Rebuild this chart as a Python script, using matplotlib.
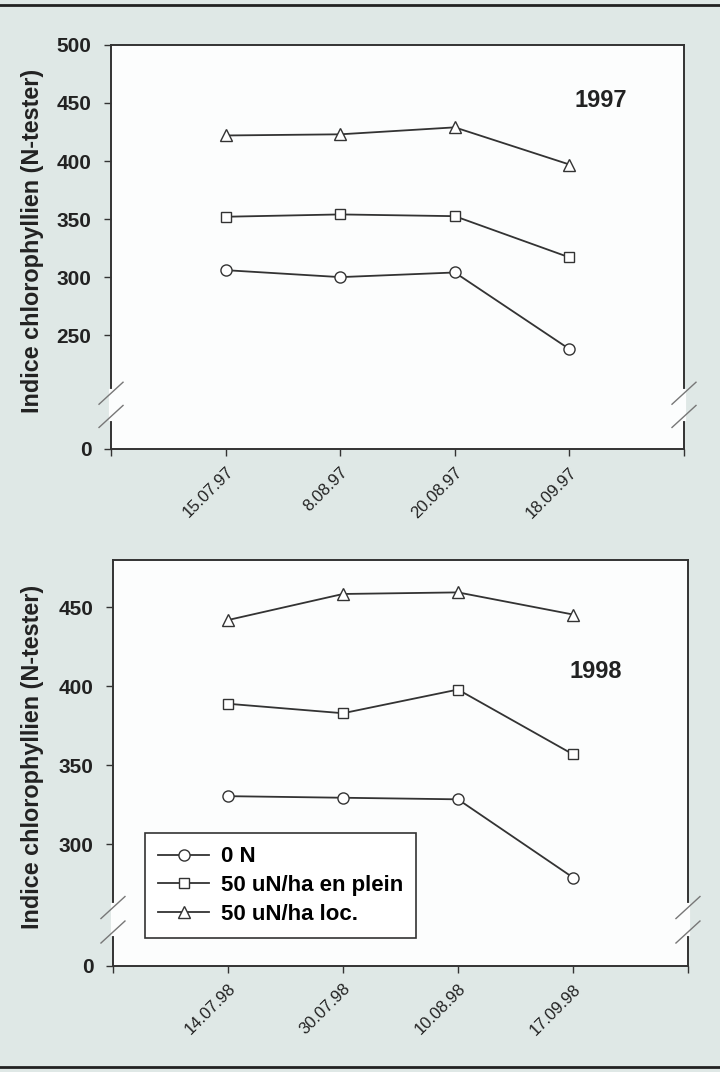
import matplotlib
matplotlib.use("Agg")
import matplotlib.pyplot as plt
from matplotlib.lines import Line2D

plt.rcParams['font.family'] = ['Liberation Sans', 'DejaVu Sans']

# ---- data ----
dates_1997 = ["15.07.97", "8.08.97", "20.08.97", "18.09.97"]
dates_1998 = ["14.07.98", "30.07.98", "10.08.98", "17.09.98"]
series_names = ["0 N", "50 uN/ha en plein", "50 uN/ha loc."]

n0_1997 = [306, 300, 304, 238]
plein_1997 = [352, 354, 352.5, 317]
loc_1997 = [422, 423, 429, 397]

n0_1998 = [330.5, 329.5, 328.5, 279]
plein_1998 = [389, 383, 398, 357]
loc_1998 = [442, 458.5, 459.5, 445.5]

yticks_1997 = [152, 250, 300, 350, 400, 450, 500]
ylabels_1997 = ["0", "250", "300", "350", "400", "450", "500"]
yticks_1998 = [223, 300, 350, 400, 450]
ylabels_1998 = ["0", "300", "350", "400", "450"]

ylabel_text = "Indice chlorophyllien (N-tester)"

BG = "#dfe8e6"
DARK = "#333333"
markers = ["o", "s", "^"]
msizes = [8, 7, 8]

fig = plt.figure(figsize=(7.2, 10.72), dpi=100)
fig.patch.set_facecolor(BG)

def setup(ax, dates, data, yticks, ylabels, ylim, year, year_xy, breaks):
    ax.set_facecolor("#fcfdfd")
    x = list(range(len(dates)))
    for vals, m, ms, name in zip(data, markers, msizes, series_names):
        ax.plot(x, vals, color=DARK, lw=1.3, marker=m, ms=ms,
                mfc="white", mec=DARK, mew=1.0, label=name, zorder=3)
    ax.set_xlim(-1, 4)
    ax.set_ylim(*ylim)
    ax.set_xticks(range(-1, 5))
    ax.set_xticklabels([""] + dates + [""], rotation=45, ha="right",
                       va="top", rotation_mode="anchor", fontsize=12,
                       color="#222222")
    ax.set_yticks(yticks)
    ax.set_yticklabels(ylabels, fontsize=15, fontweight="bold", color="#222222")
    ax.tick_params(axis="y", length=5, width=1, color=DARK, pad=9)
    ax.tick_params(axis="x", length=5, width=1, color=DARK, pad=6)
    for s in ax.spines.values():
        s.set_color(DARK)
        s.set_linewidth(1.4)
    ax.text(year_xy[0], year_xy[1], year, transform=ax.transAxes,
            fontsize=17, fontweight="bold", color="#222222",
            ha="center", va="center")
    # axis break marks on both sides
    bb = ax.get_position()
    W, H = fig.get_size_inches() * fig.dpi
    dx = 12 / (bb.width * W)
    dy = 11 / (bb.height * H)
    y0, y1 = ylim
    for xs in (0, 1):
        yb = [(b - y0) / (y1 - y0) for b in breaks]
        # gap in spine
        ax.add_line(Line2D([xs, xs], [yb[0] + 0.2 * dy, yb[1] - 0.2 * dy],
                           transform=ax.transAxes, color="#fcfdfd", lw=3,
                           clip_on=False, zorder=4))
        for yy in yb:
            ax.add_line(Line2D([xs - dx, xs + dx], [yy - dy, yy + dy],
                               transform=ax.transAxes, color="#777777",
                               lw=1.0, clip_on=False, zorder=5))

ax1 = fig.add_axes([0.1542, 0.5812, 0.7958, 0.3769])
setup(ax1, dates_1997, [n0_1997, plein_1997, loc_1997], yticks_1997,
      ylabels_1997, (152, 500), "1997", (0.854, 0.862), [200, 180])

ax2 = fig.add_axes([0.1569, 0.0989, 0.7986, 0.3787])
setup(ax2, dates_1998, [n0_1998, plein_1998, loc_1998], yticks_1998,
      ylabels_1998, (223, 480), "1998", (0.840, 0.725), [260, 244.5])

leg = ax2.legend(loc="upper left", bbox_to_anchor=(0.0557, 0.3276),
                 borderaxespad=0, fancybox=False, frameon=True,
                 prop={"family": "Liberation Sans", "weight": "bold", "size": 16},
                 handlelength=2.3, handletextpad=0.5, labelspacing=0.35,
                 borderpad=0.6)
leg.get_frame().set_edgecolor(DARK)
leg.get_frame().set_linewidth(1.2)
leg.get_frame().set_facecolor("white")
leg.get_frame().set_alpha(1)

fig.text(33 / 720, 1 - 241 / 1072, ylabel_text, rotation=90, ha="center",
         va="center", fontsize=16.8, fontweight="bold", color="#222222")
fig.text(33 / 720, 1 - 757 / 1072, ylabel_text, rotation=90, ha="center",
         va="center", fontsize=16.8, fontweight="bold", color="#222222")

# outer frame lines (top and bottom)
fig.add_artist(Line2D([0, 1], [1 - 5 / 1072, 1 - 5 / 1072],
                      transform=fig.transFigure, color="#222222", lw=2))
fig.add_artist(Line2D([0, 1], [1 - 1067 / 1072, 1 - 1067 / 1072],
                      transform=fig.transFigure, color="#222222", lw=2))

fig.savefig("out.png", dpi=100, facecolor=BG)
